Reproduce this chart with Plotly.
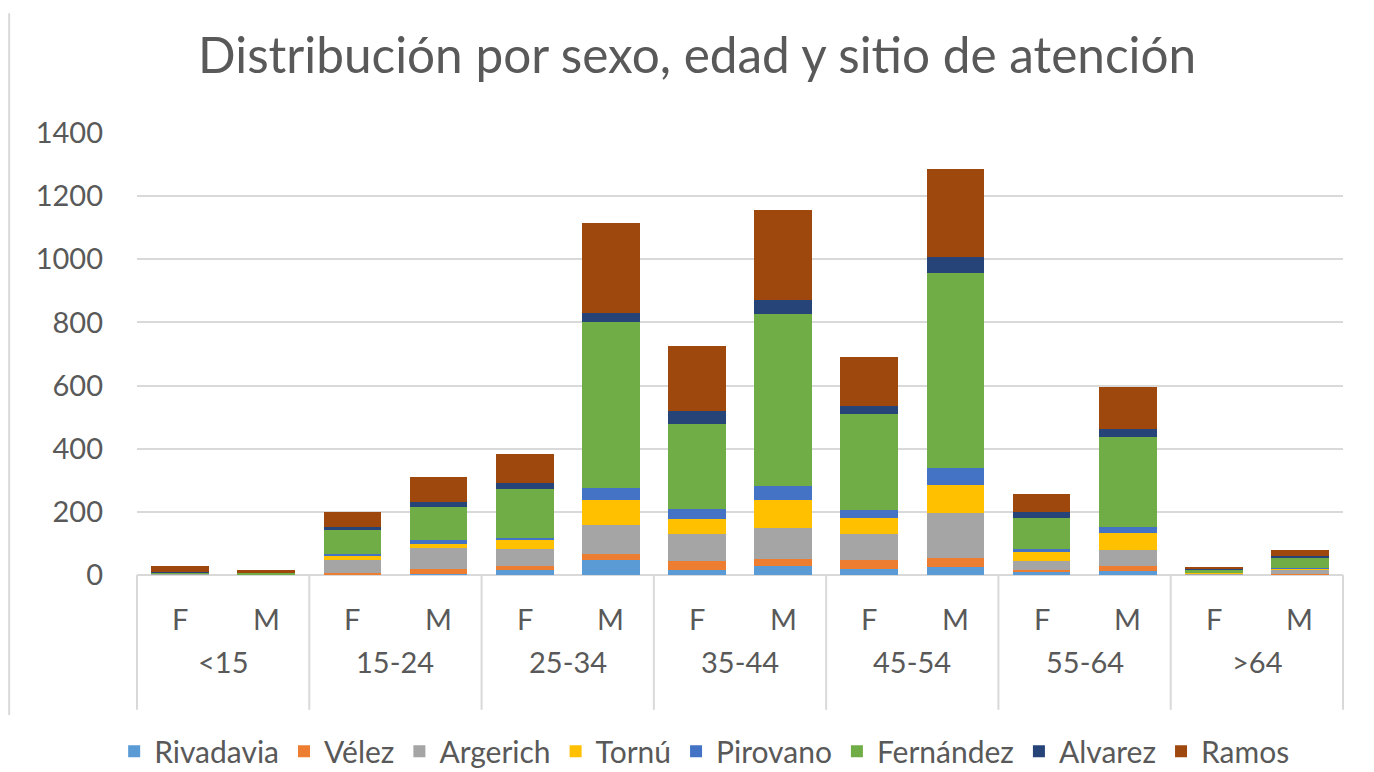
import plotly.graph_objects as go

age_groups = ["<15", "15-24", "25-34", "35-44", "45-54", "55-64", ">64"]
sexes = ["F", "M"]

rivadavia = [1, 0, 3, 4, 15, 47, 15, 30, 20, 25, 8, 12, 1, 2]
velez = [2, 3, 4, 14, 12, 19, 30, 22, 27, 29, 8, 18, 1, 2]
argerich = [2, 0, 42, 67, 55, 92, 85, 98, 83, 142, 28, 48, 2, 12]
tornu = [0, 0, 14, 12, 28, 80, 48, 86, 50, 89, 29, 54, 1, 3]
pirovano = [0, 0, 3, 13, 7, 38, 31, 47, 26, 54, 10, 19, 0, 3]
fernandez = [3, 2, 77, 104, 155, 525, 270, 545, 304, 617, 98, 285, 12, 32]
alvarez = [1, 0, 8, 16, 19, 29, 41, 44, 25, 51, 17, 28, 2, 6]
ramos = [18, 10, 47, 80, 91, 285, 205, 285, 155, 279, 60, 130, 7, 20]

series_names = ["Rivadavia", "Vélez", "Argerich", "Tornú", "Pirovano", "Fernández", "Alvarez", "Ramos"]
series_values = [rivadavia, velez, argerich, tornu, pirovano, fernandez, alvarez, ramos]
colors = ["#5B9BD5", "#ED7D31", "#A5A5A5", "#FFC000", "#4472C4", "#70AD47", "#264478", "#9E480E"]

y_ticks = [0, 200, 400, 600, 800, 1000, 1200, 1400]

outer = [g for g in age_groups for _ in sexes]
inner = [s for _ in age_groups for s in sexes]

fig = go.Figure()
for name, vals, col in zip(series_names, series_values, colors):
    fig.add_trace(go.Bar(x=[outer, inner], y=vals, name=name, marker_color=col,
                         marker_line_width=0))

FONT = "Lato"
GRAY = "#595959"
DIV = "#d9d9d9"
# the page body adds an 8px margin, so the figure is 8px smaller than the window
fig.update_layout(
    barmode="stack",
    bargap=0.33,
    width=1366, height=764,
    paper_bgcolor="white", plot_bgcolor="white",
    margin=dict(l=129, r=31, t=125, b=197, autoexpand=False),
    font=dict(family=FONT, color=GRAY, size=28),
    title=dict(text="Distribución por sexo, edad y sitio de atención",
               x=0.5045, xanchor="center", y=0.937, yanchor="middle",
               font=dict(family=FONT, size=49.5, color=GRAY)),
    legend=dict(orientation="h", xref="container", yref="container",
                x=0.510, xanchor="center", y=0.027, yanchor="middle",
                font=dict(family=FONT, size=30, color=GRAY), itemwidth=30,
                traceorder="normal", tracegroupgap=0),
    showlegend=True,
)
fig.update_yaxes(range=[0, 1400], tickvals=y_ticks, showgrid=True, gridcolor=DIV,
                 gridwidth=2, zeroline=True, zerolinecolor=DIV, zerolinewidth=2,
                 tickfont=dict(family=FONT, size=29, color=GRAY), ticklabelstandoff=33,
                 showline=False, automargin=False)
fig.update_xaxes(type="multicategory", showdividers=False, showticklabels=False,
                 showline=False, showgrid=False, automargin=False)

# two-level category labels (Excel style), placed below the axis
n_cat = len(inner)
n_grp = len(age_groups)
for i, lab in enumerate(inner):
    fig.add_annotation(text=lab, xref="paper", yref="paper", x=(i + 0.5) / n_cat, y=0,
                       yshift=-43, showarrow=False, xanchor="center", yanchor="middle",
                       font=dict(family=FONT, size=29, color=GRAY))
for j, lab in enumerate(age_groups):
    fig.add_annotation(text=lab, xref="paper", yref="paper", x=(j + 0.5) / n_grp, y=0,
                       yshift=-86, showarrow=False, xanchor="center", yanchor="middle",
                       font=dict(family=FONT, size=29, color=GRAY))
for k in range(n_grp + 1):
    fig.add_shape(type="line", xref="paper", yref="paper", x0=k / n_grp, x1=k / n_grp,
                  y0=0, y1=-0.305, line=dict(color=DIV, width=2))

fig.add_shape(type="line", xref="paper", yref="paper", x0=-0.106, x1=-0.106,
              y0=1.271, y1=-0.317, line=dict(color=DIV, width=2))

fig.write_html("out.html")
